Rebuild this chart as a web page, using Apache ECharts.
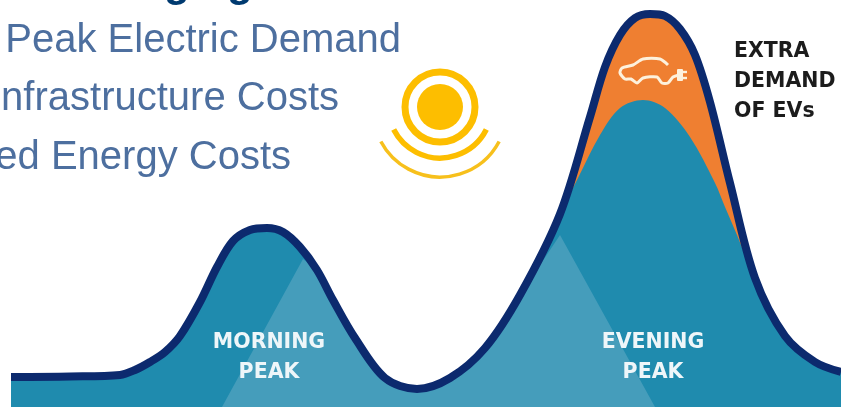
<!DOCTYPE html>
<html>
<head>
<meta charset="utf-8">
<style>html,body{margin:0;padding:0;background:#fff}#c{width:841px;height:407px}</style>
<script src="https://cdn.jsdelivr.net/npm/echarts@6/dist/echarts.min.js"></script>
</head>
<body>
<div id="c"></div>
<script>
// Total demand with EVs: [time position, demand]
const totalTime   = [11,70,120,135,150,165,180,200,217,233,250,267,283,300,317,333,355,385,417,450,485,520,560,590,605,620,635,650,665,680,695,710,730,755,785,815,841];
const totalDemand = [30,30.5,32,37,45,55,71,105,140,166,177,179,175,160,137,107,69,29,18,29,59,112,193,290,340,372,389,393,391,378,352,305,224,129,71,45,35];
// Demand without the EVs, inside the evening peak
const baseTime   = [11,70,120,135,150,165,180,200,217,233,250,267,283,300,317,333,355,385,417,450,485,520,560,578,600,620,643,665,690,715,725,737,747,755,785,815,841];
const baseDemand = [30,30.5,32,37,45,55,71,105,140,166,177,179,175,160,137,107,69,29,18,29,59,112,193,229,272,299,307,299,270,224,200,172,147,129,71,45,35];
// Extra EV demand spans only this part of the total curve
const evTime   = [560,590,605,620,635,650,665,680,695,710,730,755];
const evDemand = [193,290,340,372,389,393,391,378,352,305,224,129];
// Lighter band between the peaks
const lightTime   = [222,303,317,333,355,385,417,450,485,520,560,655];
const lightDemand = [0,148,137,107,69,29,18,29,59,112,172,0];

const headingText = 'ging';
const bulletLines = ['Peak Electric Demand','nfrastructure Costs','ed Energy Costs'];
const sideLabel = ['EXTRA','DEMAND','OF EVs'];
const peakLabels = [['MORNING','PEAK'],['EVENING','PEAK']];

const zip = (a,b) => a.map((v,i)=>[v,b[i]]);
const BLUE='#1f8bae', LIGHT='#459dbb', NAVY='#0c2a6e', ORANGE='#ef7f31', SUN='#fdbe00', CREAM='#fdf1dc';

function label(text,x,y,size,fill,opts){
  return {type:'text',z:20,x:x,y:y,style:Object.assign({text:text,fill:fill,font:size},opts||{})};
}
const boldLabel='bold 20.5px "DejaVu Sans"';
const bulletFont='40px "Liberation Sans"';
const graphics=[
  label(headingText,164,-37,'bold 42px "Liberation Sans"','#003a70'),
  label(bulletLines[0],401,41,bulletFont,'#4d6f9f',{textAlign:'right',textVerticalAlign:'middle'}),
  label(bulletLines[1],339,99,bulletFont,'#4d6f9f',{textAlign:'right',textVerticalAlign:'middle'}),
  label(bulletLines[2],291,158,bulletFont,'#4d6f9f',{textAlign:'right',textVerticalAlign:'middle'}),
  label(sideLabel[0],734,52,boldLabel,'#1c1c1c',{textVerticalAlign:'middle'}),
  label(sideLabel[1],734,82,boldLabel,'#1c1c1c',{textVerticalAlign:'middle'}),
  label(sideLabel[2],734,112,boldLabel,'#1c1c1c',{textVerticalAlign:'middle'}),
  label(peakLabels[0][0],269,343,boldLabel,'#eef6f9',{textAlign:'center',textVerticalAlign:'middle'}),
  label(peakLabels[0][1],269,373,boldLabel,'#eef6f9',{textAlign:'center',textVerticalAlign:'middle'}),
  label(peakLabels[1][0],653,343,boldLabel,'#eef6f9',{textAlign:'center',textVerticalAlign:'middle'}),
  label(peakLabels[1][1],653,373,boldLabel,'#eef6f9',{textAlign:'center',textVerticalAlign:'middle'}),
  // sun
  {type:'circle',z:20,shape:{cx:440,cy:107,r:23},style:{fill:SUN}},
  {type:'circle',z:20,shape:{cx:440,cy:107,r:35},style:{fill:'none',stroke:SUN,lineWidth:7}},
  {type:'arc',z:20,shape:{cx:440,cy:106,r:52,startAngle:27*Math.PI/180,endAngle:153*Math.PI/180,clockwise:true},style:{fill:'none',stroke:SUN,lineWidth:5.5}},
  {type:'arc',z:20,shape:{cx:440,cy:110,r:67,startAngle:28*Math.PI/180,endAngle:152*Math.PI/180,clockwise:true},style:{fill:'none',stroke:'#f7c01c',lineWidth:3.5}},
  // car icon
  {type:'polyline',z:20,shape:{smooth:0.25,points:[[668,65],[660,59],[643,59],[633,65],[622,68],[620,73],[625,79],[631,79],[637,83],[643,78],[657,77],[662,83],[668,83],[673,77],[679,75]]},style:{fill:'none',stroke:CREAM,lineWidth:3}},
  {type:'rect',z:20,shape:{x:677,y:69,width:6,height:12,r:1},style:{fill:CREAM}},
  {type:'line',z:20,shape:{x1:683,y1:72,x2:687,y2:72},style:{stroke:CREAM,lineWidth:2.4}},
  {type:'line',z:20,shape:{x1:683,y1:78,x2:687,y2:78},style:{stroke:CREAM,lineWidth:2.4}}
];

const chart=echarts.init(document.getElementById('c'),null,{renderer:'canvas'});
chart.setOption({
  animation:false,
  backgroundColor:'#ffffff',
  grid:{left:0,right:0,top:0,bottom:0},
  xAxis:{type:'value',min:0,max:841,show:false},
  yAxis:{type:'value',min:0,max:407,show:false},
  series:[
    {name:'Extra demand of EVs',type:'line',smooth:0.33,showSymbol:false,data:zip(evTime,evDemand),lineStyle:{width:0},areaStyle:{color:ORANGE,opacity:1},z:1},
    {name:'Base demand',type:'line',smooth:0.33,showSymbol:false,data:zip(baseTime,baseDemand),lineStyle:{width:0},areaStyle:{color:BLUE,opacity:1},z:2},
    {name:'Between peaks',type:'line',smooth:false,showSymbol:false,data:zip(lightTime,lightDemand),lineStyle:{width:0},areaStyle:{color:LIGHT,opacity:1},z:3},
    {name:'Total demand',type:'line',smooth:0.33,showSymbol:false,data:zip(totalTime,totalDemand),lineStyle:{width:8,color:NAVY,cap:'butt'},z:4}
  ],
  graphic:graphics
});
</script>
</body>
</html>
